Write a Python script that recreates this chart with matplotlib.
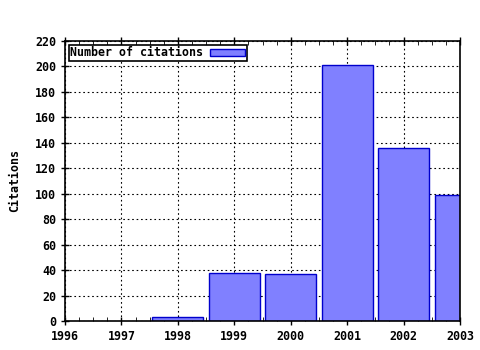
import matplotlib
matplotlib.use("Agg")
import matplotlib.pyplot as plt
from matplotlib.ticker import MultipleLocator

# citations per year
years = [1998, 1999, 2000, 2001, 2002, 2003]
citations = [3, 38, 37, 201, 136, 99]

plt.rcParams['font.family'] = ['DejaVu Sans Mono']
plt.rcParams['font.weight'] = 'bold'

fig = plt.figure(figsize=(4.8, 3.5), dpi=100)
ax = fig.add_axes([65/480, 29/350, 395/480, 280/350])

ax.bar(years, citations, width=0.9, color='#8080ff', edgecolor='#0000cc',
       linewidth=1, label='Number of citations', zorder=2)

ax.set_xlim(1996, 2003)
ax.set_ylim(0, 220)
ax.xaxis.set_major_locator(MultipleLocator(1))
ax.xaxis.set_minor_locator(MultipleLocator(0.25))
ax.yaxis.set_major_locator(MultipleLocator(20))

ax.grid(True, color='black', linestyle=(0, (1.5, 2.5)), linewidth=0.8, zorder=1)
ax.set_axisbelow(True)

ax.tick_params(axis='both', which='major', labelsize=8.4, length=6,
               direction='inout', width=1, top=True)
ax.tick_params(axis='x', which='minor', length=3, direction='in', top=True)
ax.tick_params(axis='y', right=False)
for s in ax.spines.values():
    s.set_linewidth(1.2)

ax.set_ylabel('Citations', fontsize=8.4, fontweight='bold', labelpad=10)

leg = ax.legend(loc='upper left', fontsize=8.4, fancybox=False, framealpha=1,
                edgecolor='black', borderpad=0.15, handlelength=3.0,
                handleheight=0.55, handletextpad=0.6, borderaxespad=0.3,
                markerfirst=False)
leg.get_frame().set_linewidth(1.2)

fig.savefig('out.png', dpi=100)
